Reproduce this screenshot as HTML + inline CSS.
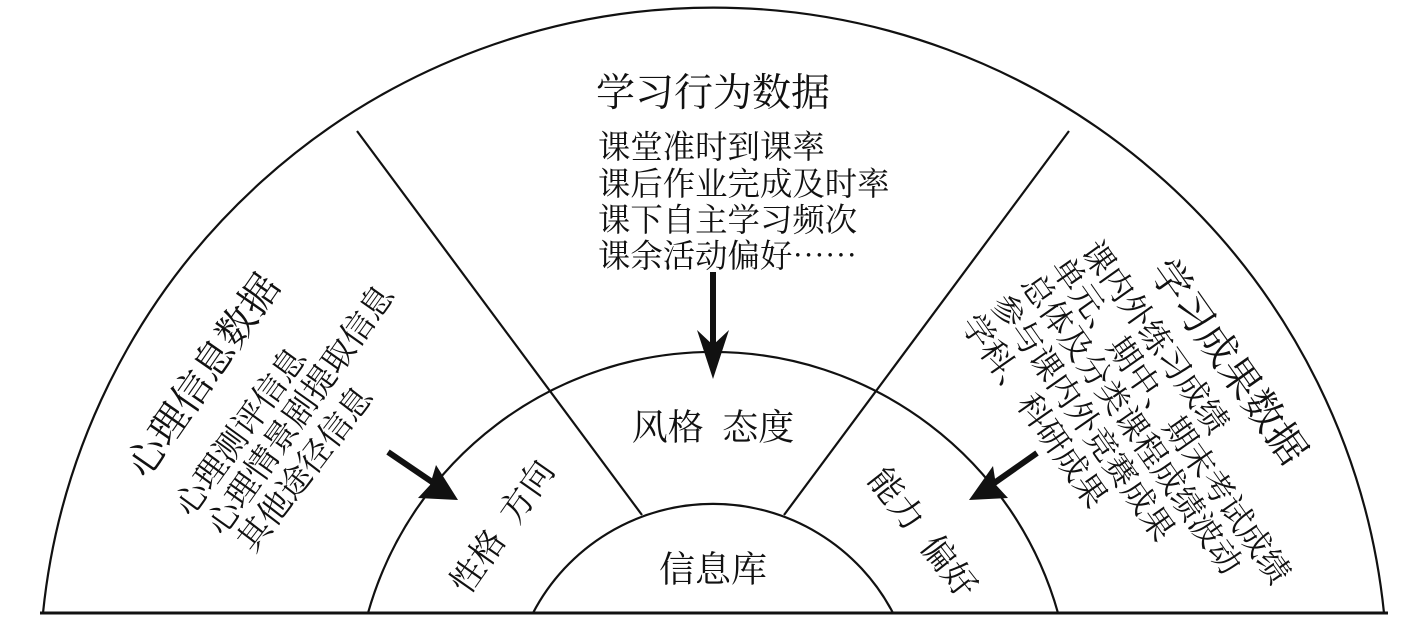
<!DOCTYPE html>
<html><head><meta charset="utf-8"><style>
html,body{margin:0;padding:0;background:#fff;}
svg{display:block;}
text{font-family:"Noto Serif CJK SC","WenQuanYi Zen Hei","Noto Sans CJK SC",serif;fill:#111;white-space:pre;}
</style></head><body>
<svg width="1424" height="631" viewBox="0 0 1424 631" xmlns="http://www.w3.org/2000/svg">
<g fill="none" stroke="#111" stroke-width="2.2">
<path d="M43 613 A674 674 0 0 1 1384 613"/>
<path d="M368 613 A358.5 358.5 0 0 1 1058 613"/>
<path d="M533 613 A203 203 0 0 1 893 613"/>
<line x1="40" y1="613" x2="1388" y2="613" stroke-width="3"/>
<line x1="357" y1="131" x2="642" y2="515"/>
<line x1="1069" y1="131" x2="784" y2="515"/>
</g>
<g fill="#111" stroke="#111">
<line x1="713" y1="272" x2="713" y2="345" stroke-width="6"/>
<polygon points="697,330 713,345 729,330 713,379" stroke="none"/>
<line x1="388" y1="452" x2="438" y2="486" stroke-width="6"/>
<polygon points="458,500 418,498 430,485 436,465" stroke="none"/>
<line x1="1037" y1="453" x2="990" y2="486" stroke-width="6"/>
<polygon points="969,500 993,466 996,485 1008,498" stroke="none"/>
</g>
<g dominant-baseline="central">
<text x="713" y="90" font-size="39" text-anchor="middle">学习行为数据</text>
<g font-size="32.4">
<text x="598" y="145">课堂准时到课率</text>
<text x="598" y="182">课后作业完成及时率</text>
<text x="598" y="218">课下自主学习频次</text>
<text x="598" y="254">课余活动偏好……</text>
</g>
<text x="713" y="425" font-size="36" text-anchor="middle">风格  态度</text>
<text x="713" y="567" font-size="36" text-anchor="middle">信息库</text>
<text transform="translate(500,525) rotate(-55)" font-size="34" text-anchor="middle">性格  方向</text>
<text transform="translate(925,531) rotate(52)" font-size="34" text-anchor="middle">能力  偏好</text>
<text transform="translate(201,374) rotate(-55.3)" font-size="39.4" text-anchor="middle">心理信息数据</text>
<g font-size="33" text-anchor="start">
<text transform="translate(190,497) rotate(-54)" x="-16.5">心理测评信息</text>
<text transform="translate(222,516) rotate(-54.6)" x="-16.5">心理情景剧提取信息</text>
<text transform="translate(253,533) rotate(-52.5)" x="-16.5">其他途径信息</text>
</g>
<text transform="translate(1231,360) rotate(54.8)" font-size="40" text-anchor="middle">学习成果数据</text>
<g font-size="32.5" text-anchor="start">
<text transform="translate(1100,257) rotate(54.5)" x="-16.5">课内外练习成绩</text>
<text transform="translate(1070,273) rotate(55)" x="-16.5">单元、期中、期末考试成绩</text>
<text transform="translate(1040,290) rotate(55)" x="-16.5">总体及分类课程成绩波动</text>
<text transform="translate(1010,310) rotate(55)" x="-16.5">参与课内外竞赛成果</text>
<text transform="translate(980,330) rotate(55)" x="-16.5">学科、科研成果</text>
</g>
</g>
</svg>
</body></html>
